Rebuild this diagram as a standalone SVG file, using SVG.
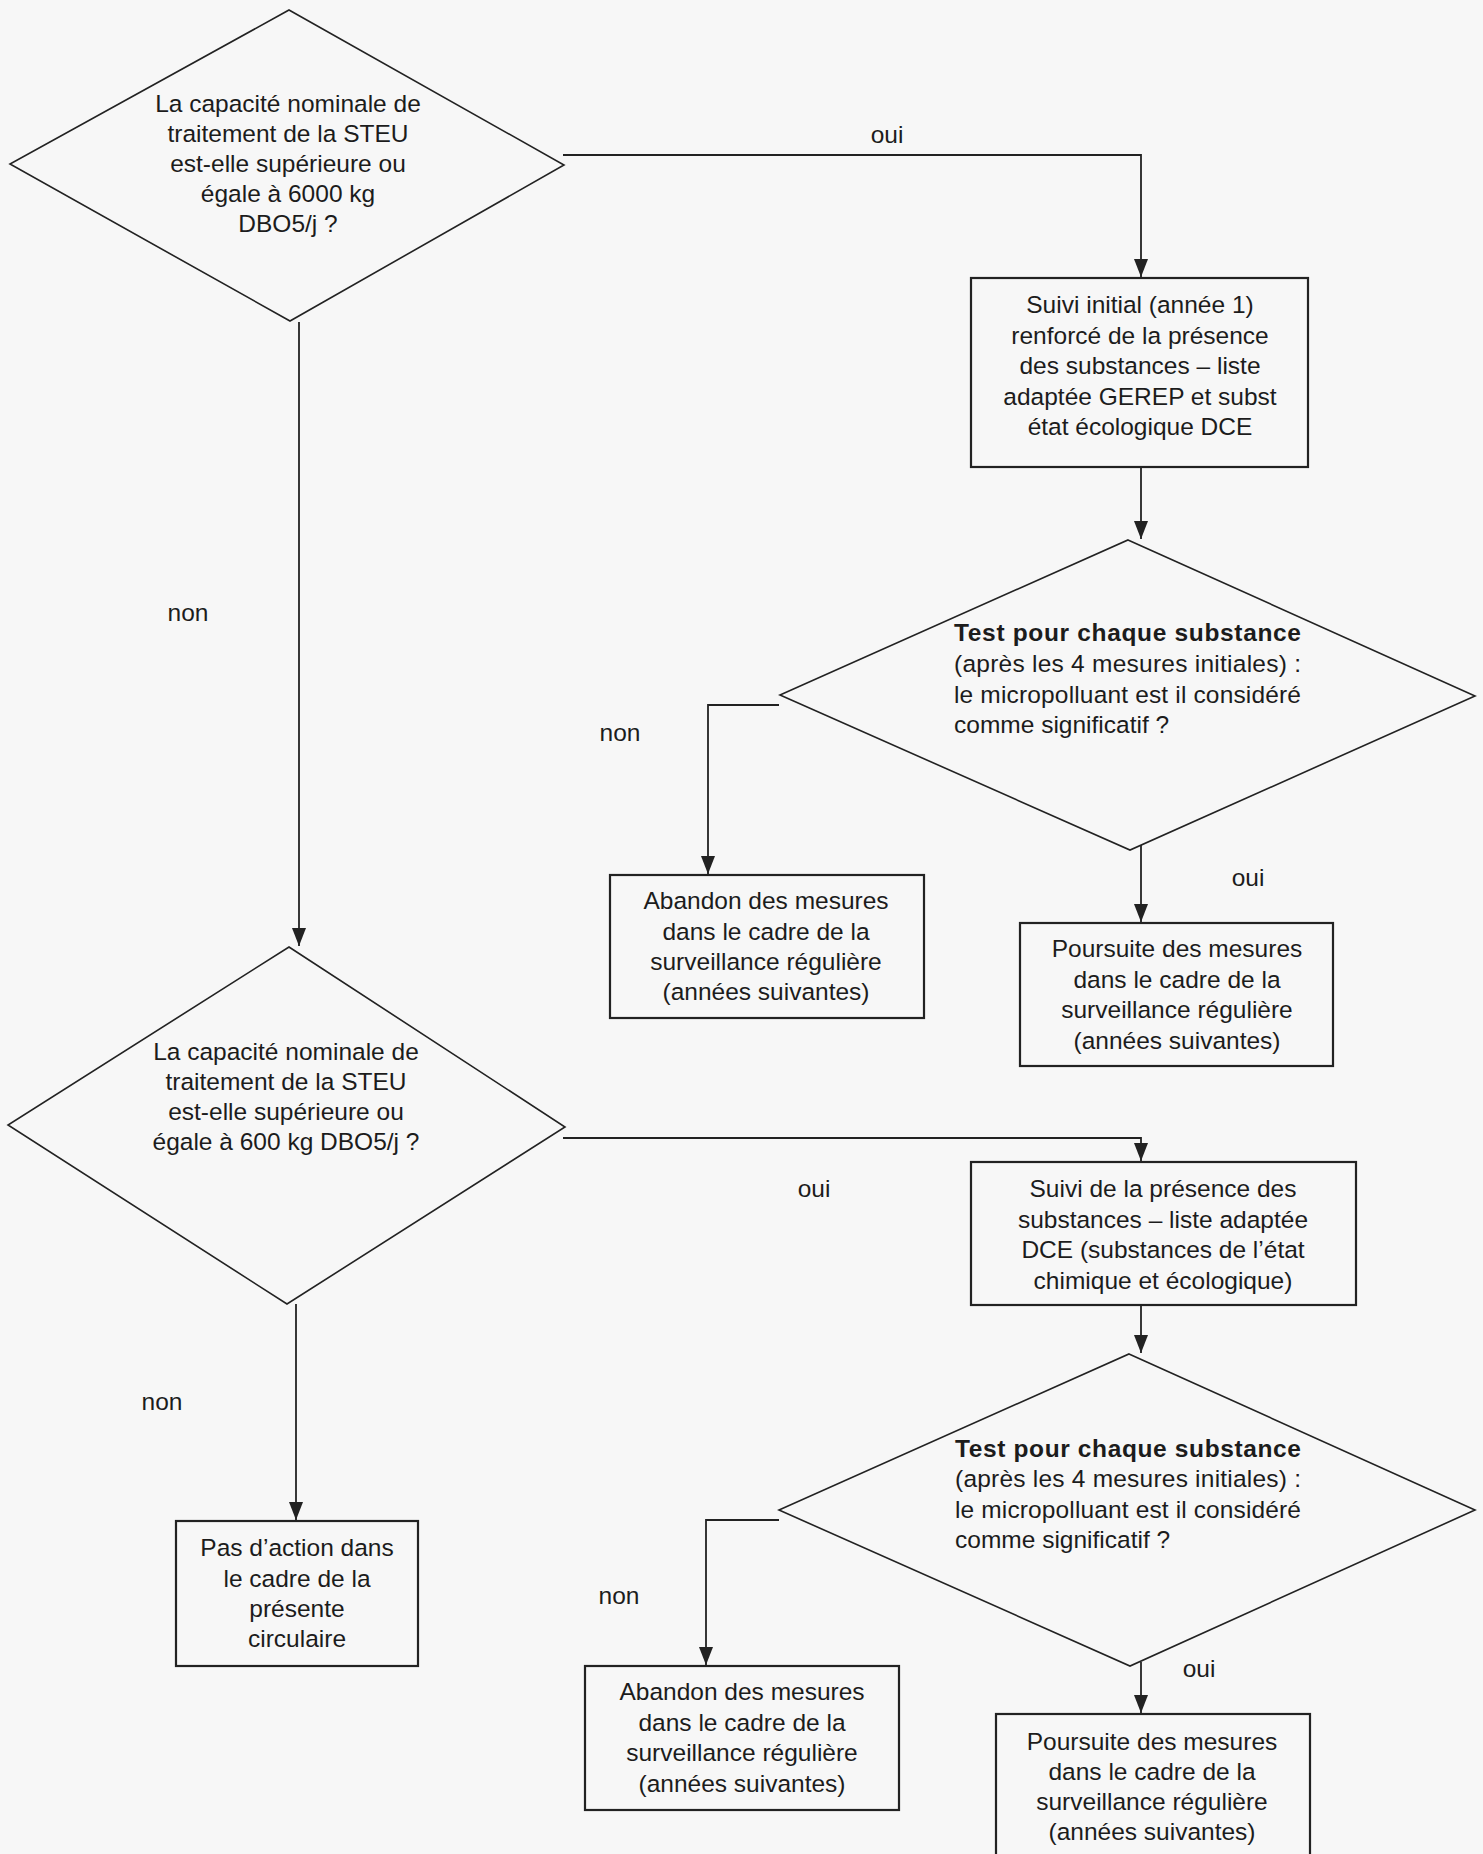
<svg xmlns="http://www.w3.org/2000/svg" width="1483" height="1854" viewBox="0 0 1483 1854">
<defs>
<style>
.bg{fill:#f7f7f7}
.box{fill:#f7f7f7;stroke:#222;stroke-width:2.2}
.dia{fill:#f7f7f7;stroke:#222;stroke-width:1.6}
.con{fill:none;stroke:#222;stroke-width:1.8}
text{font-family:"Liberation Sans",Arial,sans-serif;font-size:24.5px;fill:#1c1c1c}
.c{text-anchor:middle}
.b{font-weight:bold}
</style>
<marker id="arr" viewBox="0 0 18 14" refX="18" refY="7" markerWidth="18" markerHeight="14" orient="auto" markerUnits="userSpaceOnUse">
<path d="M0,0 L18,7 L0,14 z" fill="#222"/>
</marker>
</defs>
<rect class="bg" x="0" y="0" width="1483" height="1854"/>

<g id="connectors">
<polyline class="con" points="563,155 1141,155 1141,277" marker-end="url(#arr)"/>
<line class="con" x1="1141" y1="468" x2="1141" y2="539" marker-end="url(#arr)"/>
<polyline class="con" points="779,705 708,705 708,874" marker-end="url(#arr)"/>
<line class="con" x1="1141" y1="845" x2="1141" y2="922" marker-end="url(#arr)"/>
<line class="con" x1="299" y1="322" x2="299" y2="946" marker-end="url(#arr)"/>
<polyline class="con" points="563,1138 1141,1138 1141,1161" marker-end="url(#arr)"/>
<line class="con" x1="1141" y1="1306" x2="1141" y2="1353" marker-end="url(#arr)"/>
<polyline class="con" points="779,1520 706,1520 706,1665" marker-end="url(#arr)"/>
<line class="con" x1="1141" y1="1662" x2="1141" y2="1713" marker-end="url(#arr)"/>
<line class="con" x1="296" y1="1304" x2="296" y2="1520" marker-end="url(#arr)"/>
</g>

<g id="labels">
<text class="c" x="887" y="143">oui</text>
<text class="c" x="188" y="621">non</text>
<text class="c" x="620" y="741">non</text>
<text class="c" x="1248" y="886">oui</text>
<text class="c" x="814" y="1197">oui</text>
<text class="c" x="162" y="1410">non</text>
<text class="c" x="619" y="1604">non</text>
<text class="c" x="1199" y="1677">oui</text>
</g>

<g id="d1">
<polygon class="dia" points="289,10 564,165 290,321 10,164"/>
<text class="c" x="288" y="112">La capacité nominale de</text>
<text class="c" x="288" y="142">traitement de la STEU</text>
<text class="c" x="288" y="172">est-elle supérieure ou</text>
<text class="c" x="288" y="202">égale à 6000 kg</text>
<text class="c" x="288" y="232">DBO5/j ?</text>
</g>

<g id="b1">
<rect class="box" x="971" y="278" width="337" height="189"/>
<text class="c" x="1140" y="313">Suivi initial (année 1)</text>
<text class="c" x="1140" y="343.5">renforcé de la présence</text>
<text class="c" x="1140" y="374">des substances – liste</text>
<text class="c" x="1140" y="404.5">adaptée GEREP et subst</text>
<text class="c" x="1140" y="435">état écologique DCE</text>
</g>

<g id="d2">
<polygon class="dia" points="1128,540 1475,696 1130,850 780,695"/>
<text class="b" x="954" y="641" textLength="347" lengthAdjust="spacing">Test pour chaque substance</text>
<text x="954" y="672" textLength="347" lengthAdjust="spacing">(après les 4 mesures initiales) :</text>
<text x="954" y="703" textLength="347" lengthAdjust="spacing">le micropolluant est il considéré</text>
<text x="954" y="733">comme significatif ?</text>
</g>

<g id="ab1">
<rect class="box" x="610" y="875" width="314" height="143"/>
<text class="c" x="766" y="909">Abandon des mesures</text>
<text class="c" x="766" y="940">dans le cadre de la</text>
<text class="c" x="766" y="970">surveillance régulière</text>
<text class="c" x="766" y="1000">(années suivantes)</text>
</g>

<g id="po1">
<rect class="box" x="1020" y="923" width="313" height="143"/>
<text class="c" x="1177" y="957">Poursuite des mesures</text>
<text class="c" x="1177" y="988">dans le cadre de la</text>
<text class="c" x="1177" y="1018">surveillance régulière</text>
<text class="c" x="1177" y="1049">(années suivantes)</text>
</g>

<g id="d3">
<polygon class="dia" points="289,947 565,1127 287,1304 8,1125"/>
<text class="c" x="286" y="1060">La capacité nominale de</text>
<text class="c" x="286" y="1090">traitement de la STEU</text>
<text class="c" x="286" y="1120">est-elle supérieure ou</text>
<text class="c" x="286" y="1150">égale à 600 kg DBO5/j ?</text>
</g>

<g id="b2">
<rect class="box" x="971" y="1162" width="385" height="143"/>
<text class="c" x="1163" y="1197">Suivi de la présence des</text>
<text class="c" x="1163" y="1228">substances – liste adaptée</text>
<text class="c" x="1163" y="1258">DCE (substances de l’état</text>
<text class="c" x="1163" y="1289">chimique et écologique)</text>
</g>

<g id="d4">
<polygon class="dia" points="1129,1354 1475,1510 1130,1666 779,1510"/>
<text class="b" x="955" y="1457" textLength="346" lengthAdjust="spacing">Test pour chaque substance</text>
<text x="955" y="1487" textLength="346" lengthAdjust="spacing">(après les 4 mesures initiales) :</text>
<text x="955" y="1518" textLength="346" lengthAdjust="spacing">le micropolluant est il considéré</text>
<text x="955" y="1548">comme significatif ?</text>
</g>

<g id="pas">
<rect class="box" x="176" y="1521" width="242" height="145"/>
<text class="c" x="297" y="1556">Pas d’action dans</text>
<text class="c" x="297" y="1587">le cadre de la</text>
<text class="c" x="297" y="1617">présente</text>
<text class="c" x="297" y="1647">circulaire</text>
</g>

<g id="ab2">
<rect class="box" x="585" y="1666" width="314" height="144"/>
<text class="c" x="742" y="1700">Abandon des mesures</text>
<text class="c" x="742" y="1731">dans le cadre de la</text>
<text class="c" x="742" y="1761">surveillance régulière</text>
<text class="c" x="742" y="1792">(années suivantes)</text>
</g>

<g id="po2">
<rect class="box" x="996" y="1714" width="314" height="150"/>
<text class="c" x="1152" y="1750">Poursuite des mesures</text>
<text class="c" x="1152" y="1780">dans le cadre de la</text>
<text class="c" x="1152" y="1810">surveillance régulière</text>
<text class="c" x="1152" y="1840">(années suivantes)</text>
</g>
</svg>
